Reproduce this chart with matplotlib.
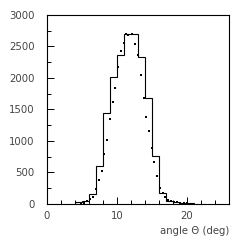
import numpy as np
import matplotlib
matplotlib.use("Agg")
import matplotlib.pyplot as plt
from matplotlib.ticker import MultipleLocator

# histograma (bins de 1 grado)
bordes = np.arange(4, 22, 1)
cuentas = [35, 40, 160, 610, 1440, 2010, 2360, 2700, 2700, 2330, 1680, 760, 170, 40, 30, 20, 15]

# puntos
puntos_x = [4.9, 5.3, 5.76, 6.1, 6.6, 7.0, 7.38, 7.8, 8.19, 8.57, 9.0, 9.35, 9.76, 10.19,
            10.62, 10.95, 11.3, 11.62, 12.1, 12.55, 13.0, 13.38, 13.8, 14.12, 14.52, 14.95,
            15.33, 15.71, 16.14, 16.52, 16.9, 17.33, 17.71, 18.1, 18.5, 19.0, 19.5, 19.95]
puntos_y = [15, 20, 42, 80, 116, 243, 376, 524, 788, 1021, 1350, 1617, 1841, 2180,
            2434, 2548, 2699, 2685, 2699, 2540, 2368, 2043, 1685, 1384, 1164, 884,
            661, 450, 259, 175, 106, 63, 48, 37, 32, 21, 16, 10]

fig = plt.figure(figsize=(2.49, 2.46), dpi=100)
ax = fig.add_axes([0.189, 0.171, 0.731, 0.768])

ax.stairs(cuentas, bordes, color="black", linewidth=0.8)
ax.plot(puntos_x, puntos_y, "s", color="black", markersize=2.0, markeredgewidth=0)

ax.set_xlim(0, 26)
ax.set_ylim(0, 3000)
ax.xaxis.set_major_locator(MultipleLocator(10))
ax.xaxis.set_minor_locator(MultipleLocator(2))
ax.yaxis.set_major_locator(MultipleLocator(500))
ax.yaxis.set_minor_locator(MultipleLocator(250))
ax.tick_params(which="both", direction="in", top=False, right=False,
               labelsize=7.3, labelcolor="#444444", width=0.7)
ax.tick_params(which="major", length=5)
ax.tick_params(axis="x", which="major", pad=5)
ax.tick_params(axis="y", which="major", pad=9)
ax.tick_params(which="minor", length=3)
for s in ax.spines.values():
    s.set_linewidth(0.8)

ax.set_xlabel("angle Θ (deg)", fontsize=7.3, color="#444444", loc="right", labelpad=4)

fig.savefig("out.png", dpi=100)
